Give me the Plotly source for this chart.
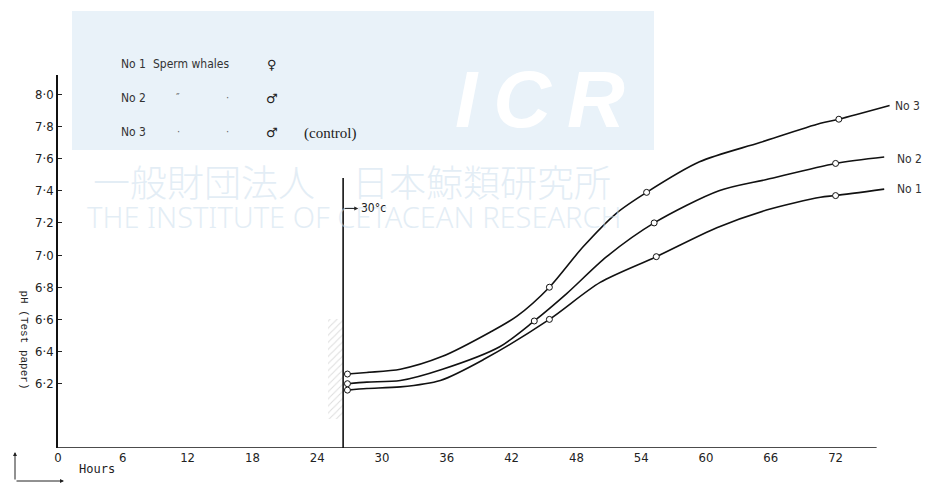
import plotly.graph_objects as go

# ---------------- data ----------------
x_ticks = [0, 6, 12, 18, 24, 30, 36, 42, 48, 54, 60, 66, 72]
y_ticks = [6.2, 6.4, 6.6, 6.8, 7.0, 7.2, 7.4, 7.6, 7.8, 8.0]
y_tick_labels = ["6·2", "6·4", "6·6", "6·8", "7·0", "7·2", "7·4", "7·6", "7·8", "8·0"]

# curve paths (hours, pH)
no3_curve_h = [26.8, 28.6, 31.7, 35.6, 40.0, 42.5, 45.5, 48.6, 51.7, 54.5, 59.4, 65.0, 70.6, 72.3, 77.0]
no3_curve_ph = [6.26, 6.27, 6.29, 6.37, 6.52, 6.62, 6.80, 7.05, 7.26, 7.39, 7.58, 7.70, 7.82, 7.845, 7.93]
no2_curve_h = [26.8, 28.6, 31.7, 35.6, 40.9, 44.1, 47.1, 50.8, 55.2, 61.2, 65.6, 72.0, 76.5]
no2_curve_ph = [6.20, 6.21, 6.22, 6.29, 6.43, 6.59, 6.76, 6.99, 7.20, 7.40, 7.47, 7.57, 7.61]
no1_curve_h = [26.8, 28.6, 31.7, 35.4, 39.4, 45.5, 50.2, 55.4, 61.0, 65.6, 70.6, 72.0, 76.5]
no1_curve_ph = [6.16, 6.17, 6.18, 6.22, 6.35, 6.60, 6.83, 6.99, 7.17, 7.28, 7.36, 7.37, 7.41]

# observed (circled) points
no3_obs_h = [26.8, 45.5, 54.5, 72.3]
no3_obs_ph = [6.26, 6.80, 7.39, 7.845]
no2_obs_h = [26.8, 44.1, 55.2, 72.0]
no2_obs_ph = [6.20, 6.59, 7.20, 7.57]
no1_obs_h = [26.8, 45.5, 55.4, 72.0]
no1_obs_ph = [6.16, 6.60, 6.99, 7.37]

series_names = ["No 3", "No 2", "No 1"]
label_ends = [(77.3, 7.93), (77.5, 7.60), (77.5, 7.41)]

# temperature change marker
temp_hour = 26.4
temp_line_top = 7.48
temp_label = "30°c"
temp_label_ph = 7.29

# shaded (hatched) band
hatch_hour = [25.7]
hatch_base = [5.98]
hatch_height = [0.62]

X_MIN, X_MAX = 0, 80
Y_MIN, Y_MAX = 5.8, 8.12
X_AXIS_END = 75.8

# ---------------- figure ----------------
W, H = 933, 485
L, R, T, B = 58, 11, 75, 37
PW, PH = W - L - R, H - T - B


def px(xp):
    return (xp - L) / PW


def py(yp):
    return (H - B - yp) / PH


fig = go.Figure()

fig.add_trace(go.Bar(
    x=hatch_hour, y=hatch_height, base=hatch_base, width=1.4,
    marker=dict(color="rgba(255,255,255,0)", line=dict(width=0),
                pattern=dict(shape="/", fgcolor="#bbbbbb", size=5, solidity=0.2)),
    showlegend=False, hoverinfo="skip"))

curves = [(no3_curve_h, no3_curve_ph, no3_obs_h, no3_obs_ph),
          (no2_curve_h, no2_curve_ph, no2_obs_h, no2_obs_ph),
          (no1_curve_h, no1_curve_ph, no1_obs_h, no1_obs_ph)]

for name, (ch, cp, oh, op) in zip(series_names, curves):
    fig.add_trace(go.Scatter(x=ch, y=cp, mode="lines", name=name,
                             line=dict(color="#111111", width=1.6, shape="spline", smoothing=0.8),
                             showlegend=False))
    fig.add_trace(go.Scatter(x=oh, y=op, mode="markers", name=name,
                             marker=dict(symbol="circle", size=6, color="white",
                                         line=dict(color="#111111", width=1)),
                             showlegend=False))

shapes = []
# legend background box
shapes.append(dict(type="rect", xref="paper", yref="paper", layer="below",
                   x0=px(72), x1=px(654), y0=py(150), y1=py(11),
                   fillcolor="#e9f2f9", line=dict(width=0)))
# x axis line
shapes.append(dict(type="line", xref="x", yref="y", x0=X_MIN, x1=X_AXIS_END, y0=Y_MIN, y1=Y_MIN,
                   line=dict(color="#111111", width=1.6)))
# temperature vertical line
shapes.append(dict(type="line", xref="x", yref="y", x0=temp_hour, x1=temp_hour, y0=Y_MIN, y1=temp_line_top,
                   line=dict(color="#111111", width=1.6)))
fig.update_layout(shapes=shapes)

ann = []
tick_font = dict(family="Liberation Sans Narrow, DejaVu Sans Condensed, Arial", size=13, color="#222222")
leg_font = dict(family="Liberation Sans Narrow, DejaVu Sans Condensed, Arial", size=11, color="#333333")
wm_color = "rgba(200,220,236,0.5)"

# watermark
ann.append(dict(text="一般財団法人　日本鯨類研究所", xref="paper", yref="paper", x=px(352), y=py(181),
                xanchor="center", yanchor="middle",
                showarrow=False, font=dict(family="Noto Sans CJK JP", size=37, weight=300, color=wm_color)))
ann.append(dict(text="THE INSTITUTE OF CETACEAN RESEARCH", xref="paper", yref="paper", x=px(354), y=py(216),
                xanchor="center", yanchor="middle",
                showarrow=False, font=dict(family="Noto Sans, Open Sans", size=29, weight=300, color=wm_color)))
ann.append(dict(text="<b><i>I\u2009C\u2009R</i></b>", xref="paper", yref="paper", x=px(540), y=py(99),
                xanchor="center", yanchor="middle",
                showarrow=False, font=dict(family="Liberation Sans, Arial", size=80, color="white")))

# legend rows
rows = [(55, "No 1", "Sperm whales", "", "♀", ""),
        (89, "No 2", "″", "·", "♂", ""),
        (123, "No 3", "·", "·", "♂", "(control)")]
for yp, no, a, b, sym, extra in rows:
    ann.append(dict(text=no, xref="paper", yref="paper", x=px(119), y=py(yp), xanchor="left",
                    showarrow=False, font=dict(leg_font, size=12)))
    if a == "Sperm whales":
        ann.append(dict(text=a, xref="paper", yref="paper", x=px(151), y=py(yp), xanchor="left",
                        showarrow=False, font=dict(leg_font, size=12)))
    else:
        ann.append(dict(text=a, xref="paper", yref="paper", x=px(178), y=py(yp), xanchor="center",
                        showarrow=False, font=dict(leg_font, color="#666666")))
        ann.append(dict(text=b, xref="paper", yref="paper", x=px(227), y=py(yp), xanchor="center",
                        showarrow=False, font=dict(leg_font, color="#666666")))
    ann.append(dict(text=sym, xref="paper", yref="paper", x=px(272), y=py(yp), xanchor="center",
                    showarrow=False, font=dict(family="DejaVu Sans", size=13, color="#222222")))
    if extra:
        ann.append(dict(text=extra, xref="paper", yref="paper", x=px(302), y=py(yp), xanchor="left",
                        showarrow=False, font=dict(family="Liberation Serif, DejaVu Serif", size=15, color="#222222")))

# curve end labels
for name, (lx, ly) in zip(series_names, label_ends):
    ann.append(dict(text=name, x=lx, y=ly, xref="x", yref="y", xanchor="left", showarrow=False,
                    font=dict(family="Liberation Sans Narrow, DejaVu Sans Condensed, Arial", size=12, color="#333333")))

# temperature arrow and label
ann.append(dict(text="", x=temp_hour + 1.4, y=temp_label_ph, ax=temp_hour, ay=temp_label_ph,
                xref="x", yref="y", axref="x", ayref="y", showarrow=True,
                arrowhead=2, arrowsize=0.8, arrowwidth=1, arrowcolor="#222222"))
ann.append(dict(text=temp_label, x=temp_hour + 1.5, y=temp_label_ph, xref="x", yref="y", xanchor="left",
                showarrow=False, font=dict(family="Liberation Sans Narrow, DejaVu Sans Condensed, Arial",
                                           size=12, color="#222222")))

# y axis title, hours arrows
ann.append(dict(text="pH (Test paper)", xref="paper", yref="paper", x=px(16), y=py(391), textangle=90,
                showarrow=False, font=dict(family="Liberation Mono, DejaVu Sans Mono", size=11, color="#222222")))
ann.append(dict(text="", xref="paper", yref="paper", x=px(15), y=py(452), ax=0, ay=29, showarrow=True,
                arrowhead=2, arrowsize=0.8, arrowwidth=1, arrowcolor="#222222"))
ann.append(dict(text="", xref="paper", yref="paper", x=px(64), y=py(481), ax=-49, ay=0, showarrow=True,
                arrowhead=2, arrowsize=0.8, arrowwidth=1, arrowcolor="#222222"))
ann.append(dict(text="Hours", xref="paper", yref="paper", x=px(77), y=py(478), xanchor="left",
                showarrow=False, font=dict(family="DejaVu Sans Mono, Liberation Mono", size=12, color="#222222")))

fig.update_layout(
    annotations=ann,
    width=W, height=H, autosize=False,
    margin=dict(l=L, r=R, t=T, b=B),
    paper_bgcolor="white", plot_bgcolor="white",
    showlegend=False, bargap=0,
    xaxis=dict(range=[X_MIN, X_MAX], tickvals=x_ticks, ticktext=[str(v) for v in x_ticks],
               showgrid=False, zeroline=False, showline=False, ticks="", tickfont=tick_font),
    yaxis=dict(range=[Y_MIN, Y_MAX], tickvals=y_ticks, ticktext=y_tick_labels,
               showgrid=False, zeroline=False, showline=True, linecolor="#111111", linewidth=1.6,
               ticks="inside", ticklen=4, tickcolor="#222222", tickfont=tick_font),
)

fig.write_html("out.html", config={"displayModeBar": False},
               post_script="document.body.style.margin='0';document.body.style.padding='0';"
                           "document.documentElement.style.overflow='hidden';")
